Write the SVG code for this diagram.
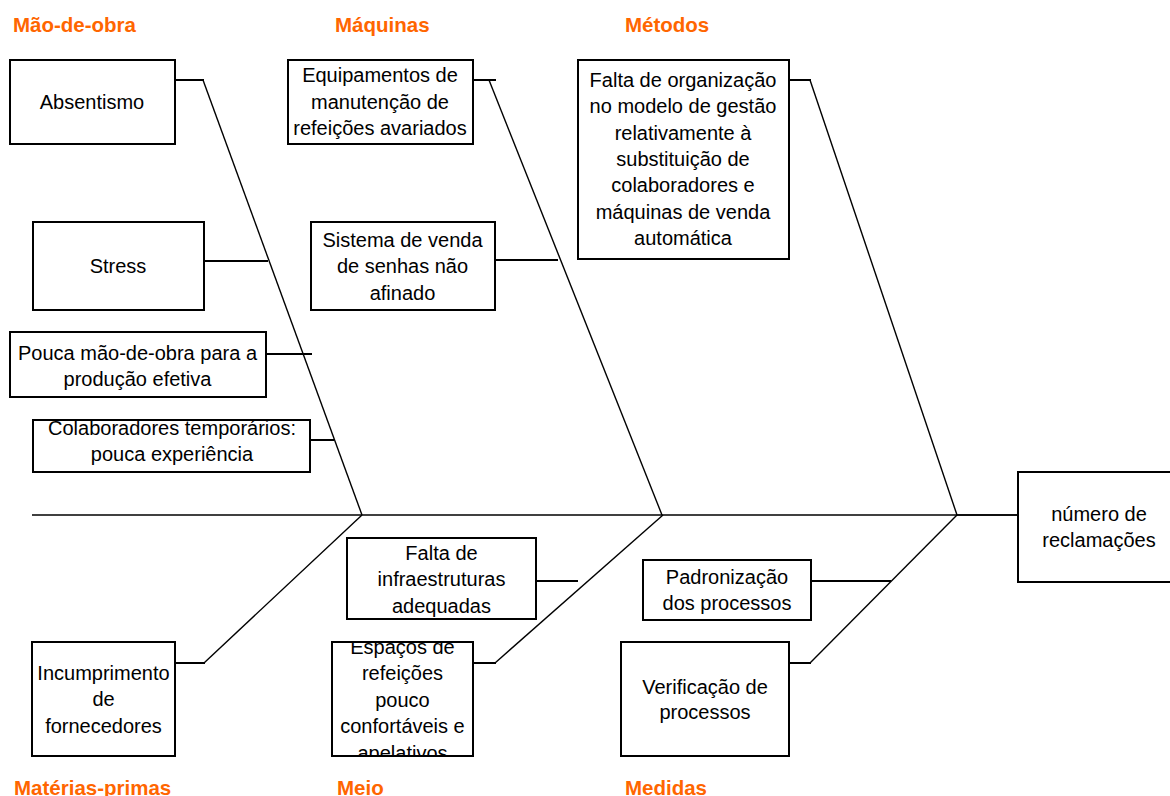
<svg xmlns="http://www.w3.org/2000/svg" width="1170" height="796" viewBox="0 0 1170 796">
<style>
.box{fill:#fff;stroke:#000;stroke-width:2}
.t{font-family:"Liberation Sans",Arial,sans-serif;font-size:20px;fill:#000;text-anchor:middle}
.h{font-family:"Liberation Sans",Arial,sans-serif;font-size:20.5px;font-weight:bold;fill:#FF6600}
.bone{stroke:#000;stroke-width:1.4;fill:none}
.spine{stroke:#000;stroke-width:1.6;fill:none}
.conn{stroke:#000;stroke-width:2;fill:none}
</style>
<defs>
<clipPath id="clipEsp"><rect x="333" y="643" width="139" height="112"/></clipPath>
</defs>
<rect width="1170" height="796" fill="#fff"/>
<g id="headings">
<text class="h" x="13" y="32">Mão-de-obra</text>
<text class="h" x="335" y="32">Máquinas</text>
<text class="h" x="625" y="32">Métodos</text>
<text class="h" x="14" y="795">Matérias-primas</text>
<text class="h" x="337" y="795">Meio</text>
<text class="h" x="625" y="795">Medidas</text>
</g>
<g id="connectors">
<line class="spine" x1="32" y1="515" x2="1018" y2="515"/>
<line class="bone" x1="203" y1="80" x2="362" y2="515"/>
<line class="bone" x1="489" y1="80" x2="662" y2="515"/>
<line class="bone" x1="810" y1="80" x2="957" y2="515"/>
<line class="bone" x1="362" y1="515" x2="204" y2="663"/>
<line class="bone" x1="663" y1="515" x2="495" y2="663"/>
<line class="bone" x1="957" y1="515" x2="810" y2="663"/>
<line class="conn" x1="175" y1="80" x2="204" y2="80"/>
<line class="conn" x1="473" y1="80" x2="496" y2="80"/>
<line class="conn" x1="789" y1="80" x2="811" y2="80"/>
<line class="conn" x1="204" y1="261" x2="268" y2="261"/>
<line class="conn" x1="495" y1="260" x2="558" y2="260"/>
<line class="conn" x1="266" y1="354" x2="312" y2="354"/>
<line class="conn" x1="310" y1="440" x2="334" y2="440"/>
<line class="conn" x1="175" y1="663" x2="205" y2="663"/>
<line class="conn" x1="473" y1="663" x2="496" y2="663"/>
<line class="conn" x1="789" y1="663" x2="811" y2="663"/>
<line class="conn" x1="536" y1="581" x2="578" y2="581"/>
<line class="conn" x1="811" y1="581" x2="891" y2="581"/>
<line class="spine" x1="957" y1="515" x2="1018" y2="515"/>
</g>
<g id="absentismo">
<rect class="box" x="10" y="60" width="165" height="84"/>
<text class="t" x="92" y="108.5">Absentismo</text>
</g>
<g id="equipamentos">
<rect class="box" x="288" y="60" width="185" height="84"/>
<text class="t" x="380" y="82">Equipamentos de</text>
<text class="t" x="380" y="108.5">manutenção de</text>
<text class="t" x="380" y="135">refeições avariados</text>
</g>
<g id="falta-organizacao">
<rect class="box" x="578" y="60" width="211" height="199"/>
<text class="t" x="683" y="87">Falta de organização</text>
<text class="t" x="683" y="113.3">no modelo de gestão</text>
<text class="t" x="683" y="139.6">relativamente à</text>
<text class="t" x="683" y="166">substituição de</text>
<text class="t" x="683" y="192.3">colaboradores e</text>
<text class="t" x="683" y="218.6">máquinas de venda</text>
<text class="t" x="683" y="245">automática</text>
</g>
<g id="stress">
<rect class="box" x="33" y="222" width="171" height="88"/>
<text class="t" x="118" y="272.5">Stress</text>
</g>
<g id="sistema-venda">
<rect class="box" x="311" y="222" width="184" height="88"/>
<text class="t" x="402.5" y="246.5">Sistema de venda</text>
<text class="t" x="402.5" y="273">de senhas não</text>
<text class="t" x="402.5" y="299.5">afinado</text>
</g>
<g id="pouca-mao-de-obra">
<rect class="box" x="10" y="332" width="256" height="65"/>
<text class="t" x="137.5" y="360">Pouca mão-de-obra para a</text>
<text class="t" x="137.5" y="386">produção efetiva</text>
</g>
<g id="colaboradores-temporarios">
<rect class="box" x="33" y="420" width="277" height="52"/>
<text class="t" x="172" y="435">Colaboradores temporários:</text>
<text class="t" x="172" y="461">pouca experiência</text>
</g>
<g id="numero-reclamacoes">
<rect class="box" x="1018" y="472" width="164" height="110"/>
<text class="t" x="1099" y="520.5">número de</text>
<text class="t" x="1099" y="547">reclamações</text>
</g>
<g id="falta-infraestruturas">
<rect class="box" x="347" y="538" width="189" height="81"/>
<text class="t" x="441.5" y="559.5">Falta de</text>
<text class="t" x="441.5" y="586">infraestruturas</text>
<text class="t" x="441.5" y="612.5">adequadas</text>
</g>
<g id="padronizacao">
<rect class="box" x="643" y="560" width="168" height="60"/>
<text class="t" x="727" y="583.5">Padronização</text>
<text class="t" x="727" y="609.5">dos processos</text>
</g>
<g id="incumprimento">
<rect class="box" x="32" y="642" width="143" height="114"/>
<text class="t" x="103.5" y="679.5">Incumprimento</text>
<text class="t" x="103.5" y="706">de</text>
<text class="t" x="103.5" y="732.5">fornecedores</text>
</g>
<g id="espacos-refeicoes">
<rect class="box" x="332" y="642" width="141" height="114"/>
<g clip-path="url(#clipEsp)">
<text class="t" x="402.5" y="653.5">Espaços de</text>
<text class="t" x="402.5" y="680">refeições</text>
<text class="t" x="402.5" y="706.7">pouco</text>
<text class="t" x="402.5" y="733.3">confortáveis e</text>
<text class="t" x="402.5" y="760">apelativos</text>
</g>
</g>
<g id="verificacao">
<rect class="box" x="621" y="642" width="168" height="114"/>
<text class="t" x="705" y="693.5">Verificação de</text>
<text class="t" x="705" y="719">processos</text>
</g>
</svg>
